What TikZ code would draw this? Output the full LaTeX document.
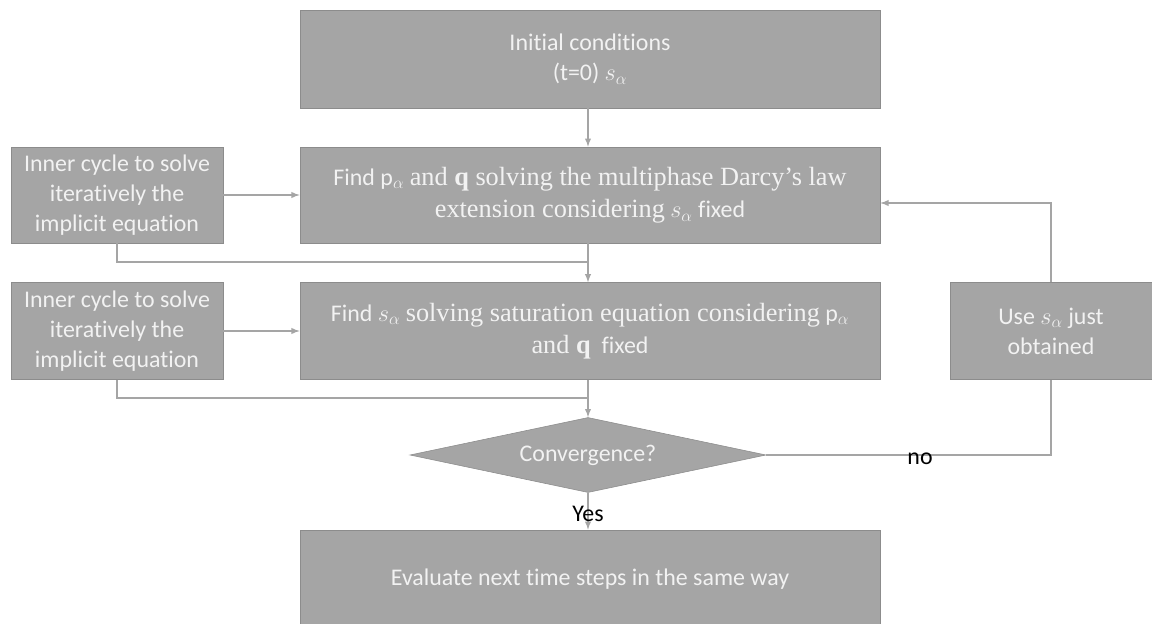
\documentclass[tikz,border=0pt]{standalone}
\usepackage{fontspec}
\setmainfont{Carlito}[Ligatures={TeX,NoCommon}]
\newfontfamily\cambria{Liberation Serif}[Scale=1.1]
\usetikzlibrary{shapes.geometric}

\definecolor{boxgray}{RGB}{165,165,165}
\definecolor{edgegray}{RGB}{140,140,140}
\definecolor{txtwhite}{RGB}{242,242,242}

\begin{document}
\begin{tikzpicture}[x=0.025cm, y=-0.025cm, >=latex,
		box/.style={draw=edgegray, fill=boxgray, text=txtwhite, align=center, inner sep=0pt, font=\fontsize{17}{21.5}\selectfont},
		link/.style={draw=boxgray, line width=1pt},
		tag/.style={text=black, font=\fontsize{17}{20}\selectfont}]
				\useasboundingbox (0,0) rectangle (1152,624);
				\node[box, minimum width=14.5cm, minimum height=2.45cm] (init)at(590, 59) {Initial conditions\\(t=0) $s_\alpha$};
				\node[box, minimum width=14.5cm, minimum height=2.4cm, font=\fontsize{17}{23}\selectfont] (darcy)at(590, 195) {Find $\mathrm{p}_\alpha$ {\cambria and \textbf{q} solving the multiphase Darcy’s law}\\{\cambria extension considering} $s_\alpha$ fixed};
				\node[box, minimum width=5.3cm, minimum height=2.4cm] (innerA)at(117, 195) {Inner cycle to solve\\iteratively the\\implicit equation};
				\node[box, minimum width=14.5cm, minimum height=2.42cm, font=\fontsize{17}{23}\selectfont] (satur)at(590, 331) {Find $s_\alpha$ {\cambria solving saturation equation considering} $\mathrm{p}_\alpha$\\{\cambria and \textbf{q}} \ fixed};
				\node[box, minimum width=5.3cm, minimum height=2.42cm] (innerB)at(117, 331) {Inner cycle to solve\\iteratively the\\implicit equation};
				\node[box, minimum width=5.05cm, minimum height=2.42cm] (reuse)at(1051, 331) {Use $s_\alpha$ just\\obtained};
				\node[box, diamond, aspect=4.75, minimum width=8.9cm, minimum height=1.875cm] (conv)at(588, 455) {Convergence?};
				\node[box, minimum width=14.5cm, minimum height=2.45cm] (next)at(590, 579) {Evaluate next time steps in the same way};
				\coordinate (joinA) at (588, 262);
				\coordinate (joinB) at (588, 398);
				\draw[link, ->] (init.south -| conv.north) -- (darcy.north -| conv.north);
				\draw[link, ->] (innerA) -- (darcy);
				\draw[link] (innerA.south) |- (joinA);
				\draw[link, ->] (darcy.south -| conv.north) -- (satur.north -| conv.north);
				\draw[link, ->] (innerB) -- (satur);
				\draw[link] (innerB.south) |- (joinB);
				\draw[link, ->] (satur.south -| conv.north) -- (conv.north);
				\draw[link, ->] (conv.south) -- (next.north -| conv.south) node[tag, midway, yshift=-2pt] {Yes};
				\draw[link] (conv.east) -| (reuse.south) node[tag, pos=0.27, yshift=-3pt] {no};
				\draw[link, ->] (reuse.north) |- ([yshift=-0.2cm]darcy.east);
			\end{tikzpicture}
\end{document}
